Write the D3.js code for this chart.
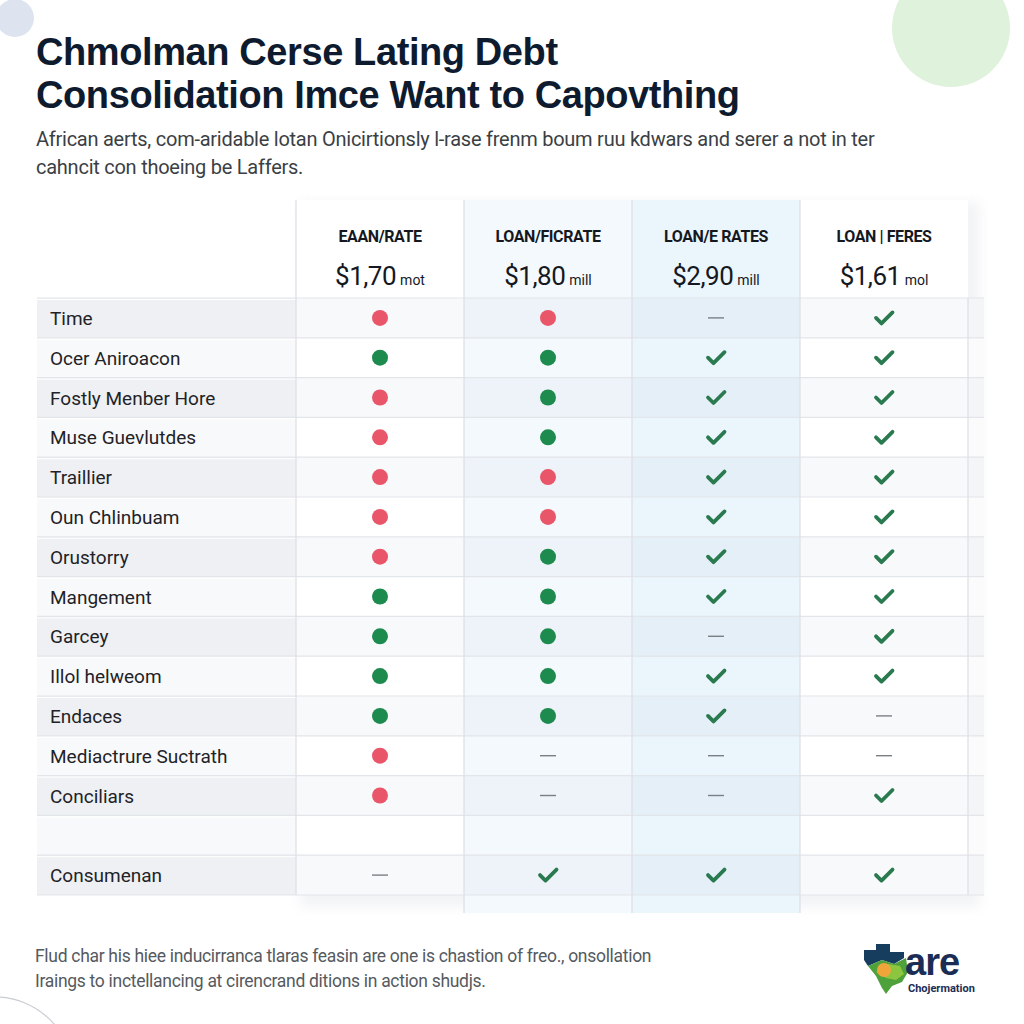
<!DOCTYPE html>
<html><head><meta charset="utf-8">
<script src="https://cdn.jsdelivr.net/npm/d3@7"></script>
<style>body{margin:0;background:#fff}svg{display:block}</style>
</head><body><svg id="c" width="1024" height="1024"></svg>
<script>
// ---------- data ----------
const titleLines = ["Chmolman Cerse Lating Debt", "Consolidation Imce Want to Capovthing"];
const subtitleLines = ["African aerts, com-aridable lotan Onicirtionsly l-rase frenm boum ruu kdwars and serer a not in ter",
                       "cahncit con thoeing be Laffers."];
const footerLines = ["Flud char his hiee inducirranca tlaras feasin are one is chastion of freo., onsollation",
                     "Iraings to inctellancing at cirencrand ditions in action shudjs."];
const columnNames = ["EAAN/RATE", "LOAN/FICRATE", "LOAN/E RATES", "LOAN | FERES"];
const columnAmounts = ["$1,70", "$1,80", "$2,90", "$1,61"];
const columnUnits = ["mot", "mill", "mill", "mol"];
const rowLabels = ["Time", "Ocer Aniroacon", "Fostly Menber Hore", "Muse Guevlutdes", "Traillier",
  "Oun Chlinbuam", "Orustorry", "Mangement", "Garcey", "Illol helweom", "Endaces",
  "Mediactrure Suctrath", "Conciliars", "", "Consumenan"];
// R = red dot, G = green dot, C = check, D = dash, "" = empty
const col1Marks = ["R","G","R","R","R","R","R","G","G","G","G","R","R","","D"];
const col2Marks = ["R","G","G","G","R","R","G","G","G","G","G","D","D","","C"];
const col3Marks = ["D","C","C","C","C","C","C","C","D","C","C","D","D","","C"];
const col4Marks = ["C","C","C","C","C","C","C","C","C","C","D","D","C","","C"];
const logoWord = "are";
const logoSub = "Chojermation";

// ---------- drawing ----------
const svg = d3.select("#c");
const marks = [col1Marks, col2Marks, col3Marks, col4Marks];

// decorative circles
svg.append("circle").attr("cx", 15).attr("cy", 18).attr("r", 19).attr("fill", "#dde4ef");
svg.append("circle").attr("cx", 951).attr("cy", 28).attr("r", 59).attr("fill", "#dff2dc");
svg.append("circle").attr("cx", -5).attr("cy", 1075).attr("r", 78).attr("fill", "none")
   .attr("stroke", "#c9ccd1").attr("stroke-width", 1.2);

// title
const font = "Roboto, 'Liberation Sans', Arial, sans-serif";
svg.append("g").selectAll("text").data(titleLines).join("text")
  .attr("x", 36).attr("y", (d, i) => 65 + i * 43)
  .attr("font-family", "'Liberation Sans', Arial, sans-serif").attr("font-weight", 700)
  .attr("font-size", 38).attr("fill", "#0e1b2f").attr("letter-spacing", -0.4).text(d => d);

svg.append("g").selectAll("text").data(subtitleLines).join("text")
  .attr("x", 36).attr("y", (d, i) => 146 + i * 28)
  .attr("font-family", font).attr("font-size", 20).attr("fill", "#3b3f45")
  .attr("letter-spacing", -0.25).text(d => d);

// scales
const rowScale = d3.scaleBand().domain(d3.range(rowLabels.length)).range([298, 895]);
const colScale = d3.scaleBand().domain(d3.range(columnNames.length)).range([296, 968]);
const labelX0 = 37, labelX1 = 296;
const headerTop = 200;

// table shadow card
const defs = svg.append("defs");
const f = defs.append("filter").attr("id", "sh").attr("x", "-5%").attr("y", "-5%").attr("width", "110%").attr("height", "110%");
f.append("feGaussianBlur").attr("stdDeviation", 6);
svg.append("rect").attr("x", 300).attr("y", headerTop + 2).attr("width", 680).attr("height", 705)
  .attr("fill", "#e9ecef").attr("opacity", 0.6).attr("filter", "url(#sh)");

// column backgrounds
const colBg = ["#ffffff", "#f4f9fd", "#ebf5fc", "#ffffff"];
const colBottom = [895, 913, 913, 895];
svg.append("g").selectAll("rect").data(columnNames).join("rect")
  .attr("x", (d, i) => colScale(i)).attr("y", headerTop)
  .attr("width", colScale.bandwidth()).attr("height", (d, i) => colBottom[i] - headerTop)
  .attr("fill", (d, i) => colBg[i]);
// right edge strip
svg.append("rect").attr("x", 968).attr("y", 298).attr("width", 16).attr("height", 597).attr("fill", "#fbfbfc");

// row stripes over data columns + label cells
const rowsG = svg.append("g");
rowLabels.forEach((lab, i) => {
  const y = rowScale(i), h = rowScale.bandwidth();
  const even = i % 2 === 0;
  rowsG.append("rect").attr("x", labelX0).attr("y", y).attr("width", labelX1 - labelX0).attr("height", h)
    .attr("fill", even ? "#eef0f3" : "#f8f9fa");
  if (even) {
    rowsG.append("rect").attr("x", 296).attr("y", y).attr("width", 688).attr("height", h)
      .attr("fill", "#7d8896").attr("opacity", 0.05);
  }
  rowsG.append("line").attr("x1", labelX0).attr("x2", 984).attr("y1", y).attr("y2", y)
    .attr("stroke", "#e2e5e9").attr("stroke-width", 1.2);
  rowsG.append("line").attr("x1", labelX0).attr("x2", labelX1).attr("y1", y + 1.5).attr("y2", y + 1.5)
    .attr("stroke", "#ffffff").attr("stroke-width", 1);
});
rowsG.append("line").attr("x1", labelX0).attr("x2", 984).attr("y1", 895).attr("y2", 895)
  .attr("stroke", "#e2e5e9").attr("stroke-width", 1.2);

// vertical lines
const vx = [296, colScale(1), colScale(2), colScale(3), 968];
const vy0 = [headerTop, headerTop, headerTop, headerTop, 298];
const vy1 = [895, 913, 913, 913, 895];
svg.append("g").selectAll("line").data(vx).join("line")
  .attr("x1", d => d).attr("x2", d => d).attr("y1", (d, i) => vy0[i]).attr("y2", (d, i) => vy1[i])
  .attr("stroke", "#dde1e6").attr("stroke-width", 1.3);

// row labels
svg.append("g").selectAll("text").data(rowLabels).join("text")
  .attr("x", 50).attr("y", (d, i) => rowScale(i) + rowScale.bandwidth() / 2 + 7)
  .attr("font-family", font).attr("font-size", 19).attr("fill", "#1f2328").text(d => d);

// headers
const hdr = svg.append("g");
hdr.selectAll("text.name").data(columnNames).join("text").attr("class", "name")
  .attr("x", (d, i) => colScale(i) + colScale.bandwidth() / 2).attr("y", 242)
  .attr("text-anchor", "middle").attr("font-family", font).attr("font-weight", 700)
  .attr("font-size", 16).attr("letter-spacing", -0.4).attr("fill", "#15191f").text(d => d);
const amt = hdr.selectAll("text.amt").data(columnAmounts).join("text").attr("class", "amt")
  .attr("x", (d, i) => colScale(i) + colScale.bandwidth() / 2).attr("y", 285)
  .attr("text-anchor", "middle").attr("font-family", font).attr("fill", "#15191f");
amt.append("tspan").attr("font-size", 26).attr("letter-spacing", -0.5).text(d => d);
amt.append("tspan").attr("font-size", 14).attr("dx", 4).text((d, i) => columnUnits[i]);

// marks
const red = "#e9566a", green = "#1d8a4e", check = "#2a7a50";
const cellsG = svg.append("g");
marks.forEach((col, ci) => {
  const cx = colScale(ci) + colScale.bandwidth() / 2;
  col.forEach((m, ri) => {
    const cy = rowScale(ri) + rowScale.bandwidth() / 2;
    const g = cellsG.append("g").attr("transform", `translate(${cx},${cy})`);
    if (m === "R" || m === "G") {
      g.append("circle").attr("r", 8).attr("fill", m === "R" ? red : green);
    } else if (m === "C") {
      g.append("path").attr("d", "M-8,0 L-2.5,5.5 L8.5,-5.5").attr("fill", "none")
        .attr("stroke", check).attr("stroke-width", 3.8).attr("stroke-linecap", "round").attr("stroke-linejoin", "round");
    } else if (m === "D") {
      g.append("line").attr("x1", -8).attr("x2", 8).attr("stroke", "#7a7f86").attr("stroke-width", 1.4);
    }
  });
});

// footer
svg.append("g").selectAll("text").data(footerLines).join("text")
  .attr("x", 35).attr("y", (d, i) => 962 + i * 25)
  .attr("font-family", font).attr("font-size", 17.5).attr("fill", "#555a60")
  .attr("letter-spacing", -0.3).text(d => d);

// logo
const logo = svg.append("g").attr("transform", "translate(860,944)");
logo.append("path").attr("d", "M4,6 L16,6 L16,0 L30,0 L30,8 L44,8 L44,14 L34,20 L22,16 L8,22 L4,16 Z").attr("fill", "#163c5e");
logo.append("path").attr("d", "M8,22 L22,16 L34,20 L46,14 L48,28 L42,38 L32,42 L26,50 L22,44 L16,32 Z").attr("fill", "#4fa13c");
logo.append("path").attr("d", "M16,28 L28,20 L40,22 L44,30 L36,36 L26,34 Z").attr("fill", "#8cc63f");
logo.append("circle").attr("cx", 24).attr("cy", 26).attr("r", 7).attr("fill", "#f0a53a");
logo.append("text").attr("x", 45).attr("y", 31).attr("font-family", "'Liberation Sans', Arial, sans-serif")
  .attr("font-weight", 700).attr("font-size", 38).attr("letter-spacing", -1).attr("fill", "#1b2d55").text(logoWord);
logo.append("text").attr("x", 48).attr("y", 48).attr("font-family", font)
  .attr("font-weight", 700).attr("font-size", 11).attr("fill", "#1b2d55").text(logoSub);
</script></body></html>
